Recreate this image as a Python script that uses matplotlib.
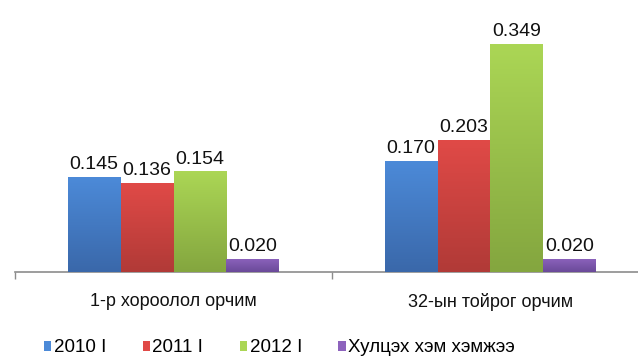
import numpy as np
import matplotlib.pyplot as plt
import matplotlib.colors as mcolors
from matplotlib.patches import Patch

plt.rcParams['font.family'] = ['Liberation Sans', 'DejaVu Sans']

categories = ['1-р хороолол орчим', '32-ын тойрог орчим']
series = ['2010 I', '2011 I', '2012 I', 'Хулцэх хэм хэмжээ']
values = [
    [0.145, 0.170],
    [0.136, 0.203],
    [0.154, 0.349],
    [0.020, 0.020],
]
# top / bottom shade of each bar gradient
top_colors = ['#4c8ad8', '#e04a47', '#abd655', '#8d63bd']
bottom_colors = ['#3a68aa', '#b13a37', '#84a63f', '#6a4a99']

W, H = 638, 359
fig = plt.figure(figsize=(W / 100, H / 100), dpi=100)
ax = fig.add_axes([15 / W, 1 - 272 / H, 634 / W, 248 / H])

x = np.arange(len(categories))
bw = 0.167
offsets = (np.arange(len(series)) - 1.5) * bw

for i, name in enumerate(series):
    bars = ax.bar(x + offsets[i], values[i], width=bw, color=bottom_colors[i],
                  edgecolor='none', zorder=2)
    cmap = mcolors.LinearSegmentedColormap.from_list(
        'g%d' % i, [bottom_colors[i], top_colors[i]])
    for b, v in zip(bars, values[i]):
        x0, w = b.get_x(), b.get_width()
        grad = np.linspace(0, 1, 100).reshape(-1, 1)
        im = ax.imshow(grad, cmap=cmap, aspect='auto', origin='lower',
                       extent=[x0, x0 + w, 0, v], zorder=3)
        im.set_clip_path(b)
        ax.text(x0 + w / 2, v + 0.006, '%.3f' % v, ha='center', va='bottom',
                fontsize=14, color='#111111', zorder=4)

ax.set_xlim(-0.5, 1.5)
ax.set_ylim(0, 0.38)

for s in ['left', 'right', 'top']:
    ax.spines[s].set_visible(False)
ax.spines['bottom'].set_color('#8c8c8c')
ax.spines['bottom'].set_linewidth(1.2)
ax.set_yticks([])
ax.set_xticks([-0.5, 0.5, 1.5])
ax.set_xticklabels([])
ax.set_xticks(x, minor=True)
ax.set_xticklabels(categories, minor=True, fontsize=13, color='#111111')
ax.tick_params(axis='x', which='major', length=5, color='#8c8c8c', width=1)
ax.tick_params(axis='x', which='minor', length=0, pad=15)

handles = [Patch(facecolor=c, edgecolor='none') for c in top_colors]
fig.legend(handles, series, loc='lower left', bbox_to_anchor=(27 / W, -0.04),
           ncol=4, frameon=False, fontsize=13.5, handlelength=0.4,
           handleheight=0.4, handletextpad=0.12, columnspacing=1.95)

fig.savefig('out.png', dpi=100)
